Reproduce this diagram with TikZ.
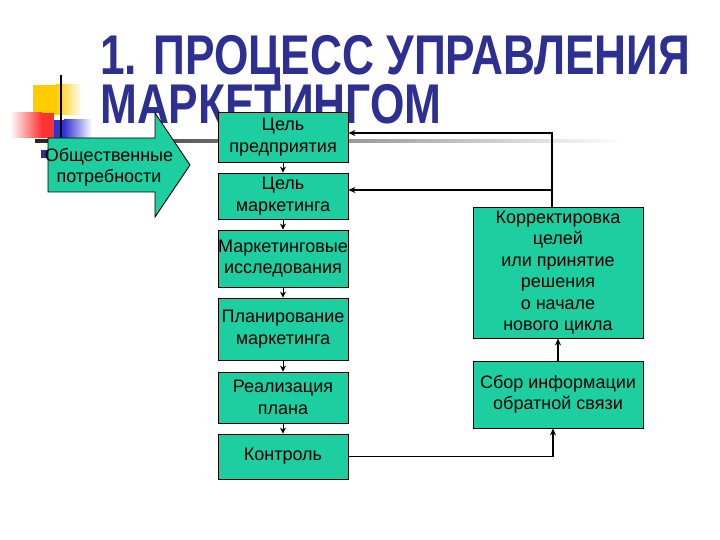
\documentclass[tikz,border=0pt]{standalone}
\usepackage{fontspec}
\setmainfont{Liberation Sans}
\usetikzlibrary{arrows.meta}
\definecolor{boxfill}{RGB}{28,206,160}
\definecolor{titleblue}{RGB}{45,48,145}
\definecolor{ylw}{RGB}{255,204,0}
\definecolor{rd}{RGB}{255,50,50}
\definecolor{bl}{RGB}{50,50,210}
\begin{document}
\begin{tikzpicture}[x=1pt,y=-1pt,
  box/.style={draw=black, line width=0.9pt, fill=boxfill, align=center,
    font=\fontsize{18}{21.5}\selectfont, inner sep=0pt},
  flow/.style={line width=0.9pt, -{Stealth[length=6pt,width=6pt]}},
  fb/.style={line width=1.4pt, -{Stealth[length=7pt,width=6pt]}},
  ttl/.style={anchor=base west, text=titleblue, inner sep=0pt,
    font=\bfseries\fontsize{56}{56}\selectfont}]
\useasboundingbox (0,0) rectangle (720,540);
% decoration
\fill[ylw] (33,85) rectangle (56,115);
\shade[left color=ylw, right color=white] (56,85) rectangle (82,115);
\fill[rd] (42,113) rectangle (54,138);
\shade[left color=white, right color=rd] (10,113) rectangle (42,138);
\fill[bl] (54,120) rectangle (64,139);
\shade[left color=bl, right color=white] (64,120) rectangle (92,139);
\draw[line width=2pt, black] (61,75) -- (61,145);
\shade[left color=black!85, right color=white] (35,139.8) rectangle (625,142.2);
% title
\node[ttl] (t1) at (100,75) {\scalebox{0.79}[1]{1. ПРОЦЕСС УПРАВЛЕНИЯ}};
\node[ttl] (t2) at (100,124) {\scalebox{0.79}[1]{МАРКЕТИНГОМ}};
% bullet
\fill[titleblue] (41,150) rectangle (48,158);
% block arrow
\draw[line width=0.9pt, fill=boxfill] (48,138) -- (155,138) -- (155,113) -- (190,165)
  -- (155,217) -- (155,192) -- (48,192) -- cycle;
\node[align=center, font=\fontsize{18}{21.5}\selectfont, inner sep=0pt] (need) at (109,167.5)
  {Общественные\\потребности};
% left column
\node[box, minimum width=130pt, minimum height=50pt] (b1) at (283,137) {Цель\\предприятия};
\node[box, minimum width=130pt, minimum height=46pt] (b2) at (283,196) {Цель\\маркетинга};
\node[box, minimum width=130pt, minimum height=57pt] (b3) at (283,258.5) {Маркетинговые\\исследования};
\node[box, minimum width=130pt, minimum height=62pt] (b4) at (283,329) {Планирование\\маркетинга};
\node[box, minimum width=130pt, minimum height=51pt] (b5) at (283,397.5) {Реализация\\плана};
\node[box, minimum width=130pt, minimum height=45pt] (b6) at (283,456.5) {Контроль};
% right column
\node[box, minimum width=170pt, minimum height=131pt] (corr) at (558,272.5)
  {Корректировка\\целей\\или принятие\\решения\\о начале\\нового цикла};
\node[box, minimum width=170pt, minimum height=67pt] (sbor) at (558,394.5)
  {Сбор информации\\обратной связи};
% connectors
\draw[flow] (b1) -- (b2);
\draw[flow] (b2) -- (b3);
\draw[flow] (b3) -- (b4);
\draw[flow] (b4) -- (b5);
\draw[flow] (b5) -- (b6);
\coordinate (j) at (552,190);
\draw[fb] ([xshift=-6pt]corr.north) |- ([yshift=4pt]b1.east);
\draw[fb] (j) -- ([yshift=6pt]b2.east);
\draw[fb] (sbor) -- (corr);
\draw[fb] (b6.east) -| ([xshift=-5pt]sbor.south);
\end{tikzpicture}
\end{document}
